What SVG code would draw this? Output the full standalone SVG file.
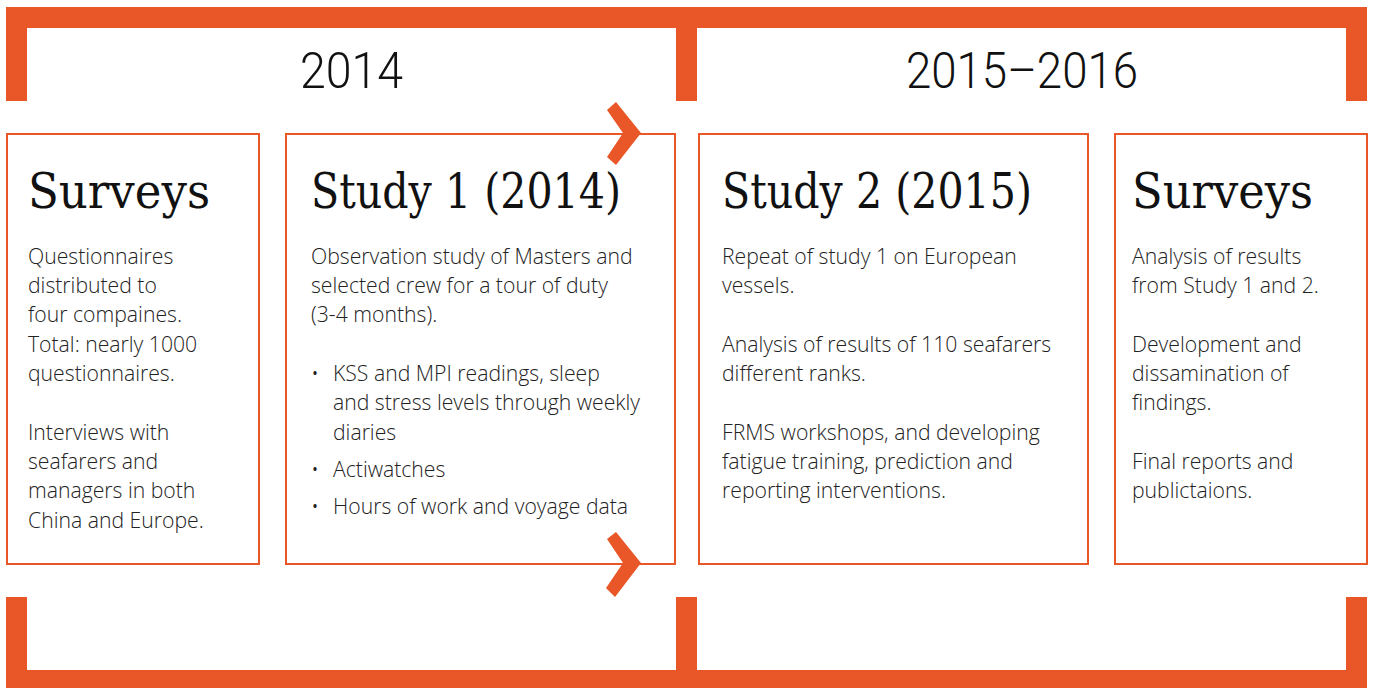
<svg xmlns="http://www.w3.org/2000/svg" width="1373" height="688" viewBox="0 0 1373 688">
<style>
.bar{fill:#E95627}
.box{fill:#fff;stroke:#E95627;stroke-width:2}
.year{font-family:Roboto,"Liberation Sans",sans-serif;font-size:50px;font-weight:300;fill:#111}
.head{font-family:"DejaVu Serif","Liberation Serif",serif;font-size:48px;fill:#111}
.body{font-family:"Open Sans","Liberation Sans",sans-serif;font-size:21.2px;font-weight:300;fill:#222}
</style>
<rect width="1373" height="688" fill="#fff"/>
<g id="brackets">
<path class="bar" d="M6,7 H1367 V101 H1346 V28 H697 V101 H676 V28 H27 V101 H6 Z"/>
<path class="bar" d="M6,688 H1367 V597 H1346 V670 H697 V597 H676 V670 H27 V597 H6 Z"/>
</g>
<g id="year-2014"><text class="year" x="300" y="88" textLength="103" lengthAdjust="spacingAndGlyphs">2014</text></g>
<g id="year-2015-2016"><text class="year" x="906" y="88" textLength="232" lengthAdjust="spacingAndGlyphs">2015–2016</text></g>
<g id="node-surveys-1">
<rect class="box" x="7" y="134" width="252" height="430"/>
<text class="head" x="28" y="208" textLength="182" lengthAdjust="spacingAndGlyphs">Surveys</text>
<text class="body">
<tspan x="28" y="264">Questionnaires</tspan>
<tspan x="28" y="293">distributed to</tspan>
<tspan x="28" y="322">four compaines.</tspan>
<tspan x="28" y="352">Total: nearly 1000</tspan>
<tspan x="28" y="381">questionnaires.</tspan>
<tspan x="28" y="440">Interviews with</tspan>
<tspan x="28" y="469">seafarers and</tspan>
<tspan x="28" y="498">managers in both</tspan>
<tspan x="28" y="528">China and Europe.</tspan>
</text>
</g>
<g id="node-study-1">
<rect class="box" x="286" y="134" width="389" height="430"/>
<text class="head" x="311" y="208" textLength="310" lengthAdjust="spacingAndGlyphs">Study 1 (2014)</text>
<text class="body">
<tspan x="311" y="264">Observation study of Masters and</tspan>
<tspan x="311" y="293">selected crew for a tour of duty</tspan>
<tspan x="311" y="322">(3-4 months).</tspan>
<tspan x="311" y="381">•</tspan><tspan x="333" y="381">KSS and MPI readings, sleep</tspan>
<tspan x="333" y="410">and stress levels through weekly</tspan>
<tspan x="333" y="440">diaries</tspan>
<tspan x="311" y="477">•</tspan><tspan x="333" y="477">Actiwatches</tspan>
<tspan x="311" y="514">•</tspan><tspan x="333" y="514">Hours of work and voyage data</tspan>
</text>
</g>
<g id="node-study-2">
<rect class="box" x="699" y="134" width="389" height="430"/>
<text class="head" x="722" y="208" textLength="310" lengthAdjust="spacingAndGlyphs">Study 2 (2015)</text>
<text class="body">
<tspan x="722" y="264">Repeat of study 1 on European</tspan>
<tspan x="722" y="293">vessels.</tspan>
<tspan x="722" y="352">Analysis of results of 110 seafarers</tspan>
<tspan x="722" y="381">different ranks.</tspan>
<tspan x="722" y="440">FRMS workshops, and developing</tspan>
<tspan x="722" y="469">fatigue training, prediction and</tspan>
<tspan x="722" y="498">reporting interventions.</tspan>
</text>
</g>
<g id="node-surveys-2">
<rect class="box" x="1115" y="134" width="252" height="430"/>
<text class="head" x="1132" y="208" textLength="181" lengthAdjust="spacingAndGlyphs">Surveys</text>
<text class="body">
<tspan x="1132" y="264">Analysis of results</tspan>
<tspan x="1132" y="293">from Study 1 and 2.</tspan>
<tspan x="1132" y="352">Development and</tspan>
<tspan x="1132" y="381">dissamination of</tspan>
<tspan x="1132" y="410">findings.</tspan>
<tspan x="1132" y="469">Final reports and</tspan>
<tspan x="1132" y="498">publictaions.</tspan>
</text>
</g>
<g id="connectors">
<polygon class="bar" points="616,102 641,133 616,165 607,157 623,133 607,110"/>
<polygon class="bar" points="616,532 641,563 615,597 606,588 623,563 607,539"/>
</g>
</svg>
